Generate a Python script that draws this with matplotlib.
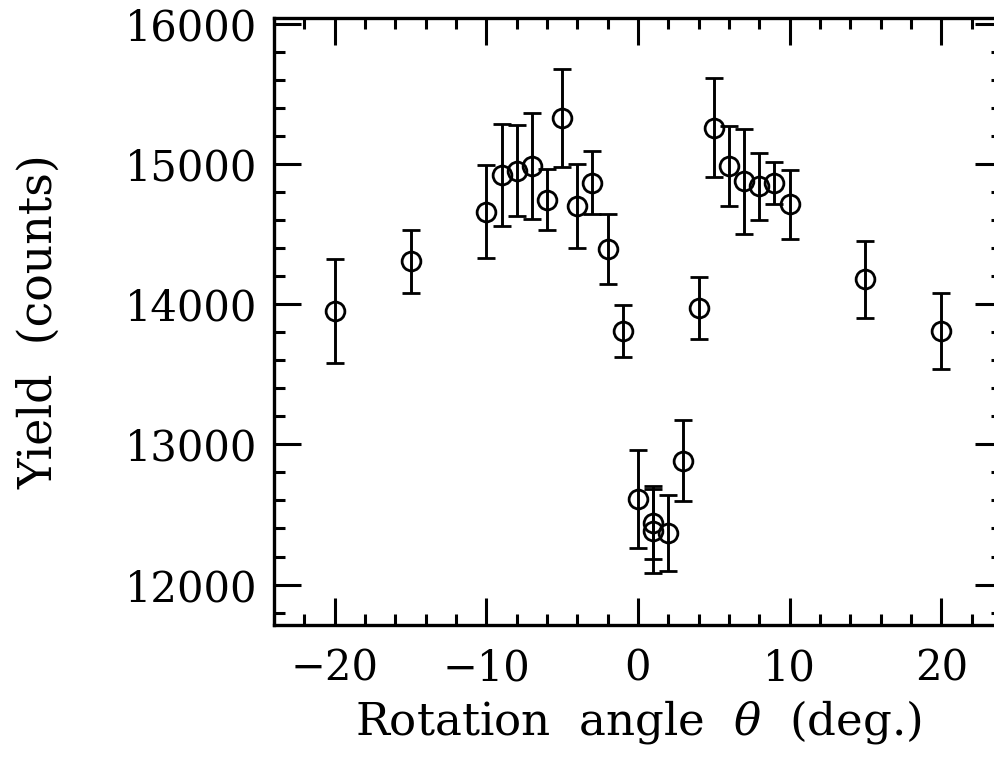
import numpy as np
import matplotlib
matplotlib.use('Agg')
import matplotlib.pyplot as plt
from matplotlib.ticker import MultipleLocator

# angulo de rotacion (deg) y yield (cuentas)
angulo = [-20, -15, -10, -9, -8, -7, -6, -5, -4, -3, -2, -1,
          0, 1, 1, 2, 3, 4, 5, 6, 7, 8, 9, 10, 15, 20]
yield_cuentas = [13950, 14305, 14660, 14920, 14950, 14985, 14745, 15325, 14700, 14865, 14395, 13808,
                 12612, 12440, 12380, 12368, 12884, 13970, 15258, 14986, 14874, 14840, 14860, 14710, 14176, 13806]
error = [370, 225, 330, 365, 325, 375, 220, 350, 300, 225, 250, 182,
         350, 260, 300, 272, 290, 220, 355, 285, 375, 240, 150, 245, 275, 270]

plt.rcParams['font.family'] = 'DejaVu Serif'
plt.rcParams['mathtext.fontset'] = 'dejavuserif'

fig = plt.figure(figsize=(9.95, 7.58), dpi=100)
# el eje derecho queda fuera de la figura (x=24), como en el original
ax = fig.add_axes([0.2754, 0.1755, 1.007 - 0.2754, 0.9763 - 0.1755])

ax.errorbar(angulo, yield_cuentas, yerr=error, fmt='o', color='black',
            mfc='none', mec='black', ms=13.5, mew=2.0,
            elinewidth=2.1, capsize=6.5, capthick=2.1)

ax.set_xlim(-24, 24)
ax.set_ylim(11712, 16040)
ax.xaxis.set_major_locator(MultipleLocator(10))
ax.xaxis.set_minor_locator(MultipleLocator(2))
ax.yaxis.set_major_locator(MultipleLocator(1000))
ax.yaxis.set_minor_locator(MultipleLocator(200))

ax.tick_params(which='both', direction='in', top=True, right=True, width=2.2, labelsize=30)
ax.tick_params(which='major', length=19.5)
ax.tick_params(axis='x', which='major', pad=16.5)
ax.tick_params(axis='y', which='major', pad=12)
ax.tick_params(which='minor', length=8)
for s in ax.spines.values():
    s.set_linewidth(2.4)

ax.set_xlabel(r'Rotation  angle  $\theta$  (deg.)', fontsize=32.5, labelpad=6)
ax.set_ylabel('Yield  (counts)', fontsize=33, labelpad=45)

fig.savefig('out.png', dpi=100)
